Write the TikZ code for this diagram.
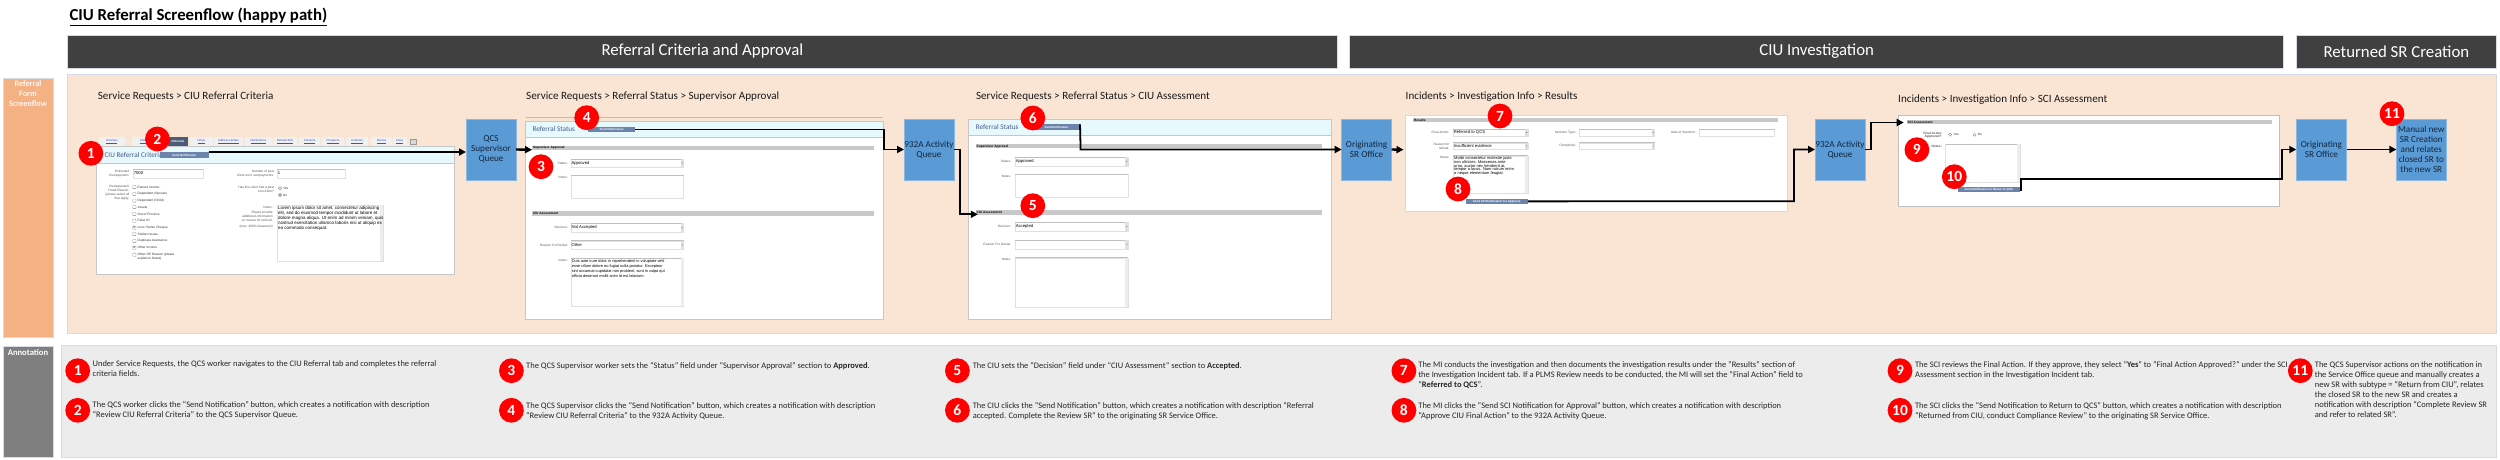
\documentclass[tikz,border=0pt]{standalone}
\usepackage{fontspec}
\setmainfont{Carlito}
\newfontfamily\frmfont{Liberation Sans}
\usetikzlibrary{arrows.meta}
\definecolor{peach}{HTML}{FAE5D5}
\definecolor{strip}{HTML}{F4B183}
\definecolor{annot}{HTML}{7F7F7F}
\definecolor{panel}{HTML}{ECECEC}
\definecolor{dark}{HTML}{404040}
\definecolor{edgeb}{HTML}{D6DCE5}
\definecolor{queue}{HTML}{5B9BD5}
\definecolor{qtext}{HTML}{12263F}
\definecolor{hdr}{HTML}{E8F9FD}
\definecolor{btn}{HTML}{6C83AB}
\definecolor{bar}{HTML}{C8C8C8}
\definecolor{lnk}{HTML}{3A4FD0}
\definecolor{ttl}{HTML}{3F5C8C}
\newcount\fcnt
\newcommand\fsz[1]{\fontsize{#1}{#1}\selectfont}
\newcommand\bx[7][]{%
  \pgfmathsetmacro\bxc{(#3+#5)/2}\pgfmathsetmacro\byc{(#4+#6)/2}%
  \pgfmathsetmacro\bw{abs(#5-#3)}\pgfmathsetmacro\bh{abs(#6-#4)}%
  \node[inner sep=0pt,outer sep=0pt,minimum width=\bw pt,minimum height=\bh pt,#1] (#2) at (\bxc,\byc) {#7};}
\newcommand\nid{\global\advance\fcnt by 1 }
% right-aligned tiny form label
\newcommand\rgtxt[3]{\nid\node[frm,anchor=east,text=black!65] (f\the\fcnt) at (#1,#2) {#3};}
% left-aligned tiny form text
\newcommand\lftxt[3]{\nid\node[frm,anchor=west,text=black!80] (f\the\fcnt) at (#1,#2) {#3};}
% input field
\newcommand\fld[5]{\draw[fieldl] (#1,#2) rectangle (#3,#4);\draw[black!25,line width=.9pt] (#1,#2) -- (#3,#2);
  \nid\node[frm,anchor=west,text=black,fsize=4.2] (f\the\fcnt) at (#1+.5,{(#2+#4)/2}) {#5};}
% drop-down marker
\newcommand\drp[3]{\fill[black!12] (#1-3,#2) rectangle (#1,#3);\fill[black!60] (#1-2.1,{(#2+#3)/2-.5}) -- (#1-.9,{(#2+#3)/2-.5}) -- (#1-1.5,{(#2+#3)/2+.6}) -- cycle;}
\newcommand\chk[2]{\draw[black!45,line width=.3pt,rounded corners=.5pt] (#1,#2-1.6) rectangle (#1+3.3,#2+1.6);}
\newcommand\rdo[2]{\draw[black!55,line width=.3pt] (#1,#2) circle (1.6);}
\tikzset{
  x=1pt,y=-1pt,
  frm/.style={inner sep=0pt,outer sep=0pt,font=\frmfont\fsz{3.2}},
  fsize/.style={font=\frmfont\fsz{#1}},
  fieldl/.style={draw=black!12,fill=white,line width=.4pt},
  redc/.style={circle,fill=red,inner sep=0pt,minimum size=24.8pt,text=white,font=\bfseries\fsz{15.5}},
  headbar/.style={fill=dark,draw=edgeb,line width=.5pt,text=white,font=\fsz{16.8}},
  qbox/.style={fill=queue,draw=queue!70!white,line width=.5pt,text=qtext,align=center,font=\fontsize{9.2}{10}\selectfont},
  secl/.style={anchor=west,inner sep=0pt,font=\fsz{11.1},text=black!90},
  annt/.style={anchor=north west,inner sep=0pt,align=left,text=black!85,font=\fontsize{8.45}{10}\selectfont},
  formb/.style={fill=white,draw=black!22,line width=.5pt},
  hdrb/.style={fill=hdr,draw=black!22,line width=.5pt},
  nbtn/.style={fill=btn,text=white,font=\frmfont\bfseries\fsz{2.9}},
  tabb/.style={fill=black!6,text=lnk,font=\frmfont\fsz{2.9}},
  sbar/.style={fill=bar},
  flow/.style={draw=black,line width=1.8pt,-{Triangle[length=7pt,width=7pt]}},
  stub/.style={draw=black,line width=2.4pt,-{Triangle[length=7pt,width=7pt]}},
}
\begin{document}
\begin{tikzpicture}
\useasboundingbox (0,0) rectangle (2500,459);
\fill[white] (0,0) rectangle (2500,459);
% title
\node[anchor=base west,inner sep=0pt,font=\bfseries\fsz{16.8}] (title) at (69.4,20.7) {\underline{CIU Referral Screenflow (happy path)}};
% headers
\bx[headbar]{h1}{67}{35}{1337.7}{68}{Referral Criteria and Approval}
\bx[headbar]{h2}{1349.6}{35}{2283.6}{68}{CIU Investigation}
\bx[headbar]{h3}{2296.3}{35}{2496.4}{68}{Returned SR Creation}
% bands
\bx[fill=peach,draw=edgeb,line width=.5pt]{band}{67}{74}{2496.4}{333}{}
\bx[fill=strip,draw=edgeb,line width=.5pt]{sideA}{3}{78}{53}{337}{}
\bx[fill=annot,draw=edgeb,line width=.5pt]{sideB}{3}{346}{53}{457}{}
\bx[fill=panel,draw=edgeb,line width=.5pt]{anpanel}{61}{345}{2496.4}{457}{}
\node[anchor=north,inner sep=0pt,align=center,text=white!90!strip,font=\bfseries\fontsize{8.2}{10}\selectfont] (sideAt) at (28,80.5) {Referral\\Form\\Screenflow};
\node[inner sep=0pt,text=white,font=\bfseries\fsz{8.6}] (sideBt) at (28,352.3) {Annotation};
% section titles
\node[secl] (s1) at (97.7,97) {Service Requests > CIU Referral Criteria};
\node[secl] (s2) at (526,97) {Service Requests > Referral Status > Supervisor Approval};
\node[secl] (s3) at (975.8,97) {Service Requests > Referral Status > CIU Assessment};
\node[secl] (s4) at (1405.5,97) {Incidents > Investigation Info > Results};
\node[secl] (s5) at (1898,99.3) {Incidents > Investigation Info > SCI Assessment};
% queues
\bx[qbox]{q1}{466}{119}{516}{180}{QCS\\Supervisor\\Queue}
\bx[qbox]{q2}{904}{119}{953.8}{180}{932A Activity\\Queue}
\bx[qbox]{q3}{1341.7}{119}{1391.5}{180}{Originating\\SR Office}
\bx[qbox]{q4}{1815}{119}{1865}{180}{932A Activity\\Queue}
\bx[qbox]{q5}{2296.3}{119}{2346.5}{180}{Originating\\SR Office}
\bx[qbox]{q6}{2396.4}{119}{2446.2}{180}{Manual new\\SR Creation\\and relates\\closed SR to\\the new SR}

% ---------- form 1
\bx[formb]{f1body}{96.5}{146}{454.5}{274}{}
\bx[hdrb]{f1head}{96.5}{146}{454.5}{163}{}
\foreach \ta/\tb/\tl in {98.5/125/Activities,131.5/165/Attachments,190/212.7/Notes,214/243/Address Update,245/272/Notifications,273/297/Related SRs,299/320/Contacts,322/344/Prospects,346/368/Incidents,371/392/Review,392.6/406.6/Close}{
  \nid\bx[tabb]{f\the\fcnt}{\ta}{137}{\tb}{146}{\underline{\tl}}
}
\bx[fill=btn!70!black,text=white,font=\frmfont\bfseries\fsz{2.9}]{tabref}{168}{137}{188}{146}{Referrals}
\bx[fill=black!15,draw=black!40,line width=.3pt]{tabmore}{410}{139}{416.5}{144}{}
\node[inner sep=0pt,anchor=west,text=ttl,font=\fsz{7.2}] (f1t) at (104.4,155) {CIU Referral Criteria};
\bx[nbtn]{b1}{160}{152}{208.5}{158}{Send Notification}
\rgtxt{129.3}{171.5}{Estimated}\rgtxt{129.3}{175.5}{Overpayment:}
\fld{133.3}{169.3}{202.7}{177.7}{7000}
\rgtxt{274}{171.5}{Number of past}\rgtxt{274}{175.5}{client error overpayments:}
\fld{277.3}{169.3}{345}{177.7}{1}
\rgtxt{129.3}{187}{Overpayment/}\rgtxt{129.3}{190.7}{Fraud Reason:}\rgtxt{129.3}{194.7}{(please select all}\rgtxt{129.3}{198.5}{that apply:}
\foreach \yy/\tl in {187/{Earned Income},194/{Dependant (Spouse)},200.5/{Dependant (Child)},207/{Assets},214/{Out of Province},220.7/{False ID},227.7/{Lost / Stolen Cheque},234/{Shelter Issues},241/{Duplicate Assistance},247.7/{Other Income},254.7/{Other OP Reason (please}}{
  \chk{132.7}{\yy}\lftxt{137.7}{\yy}{\tl}
}
\lftxt{137.7}{259}{explain in Notes)}
\node[inner sep=0pt,font=\fsz{3.5}] (ck1) at (134.35,227.7) {x};
\node[inner sep=0pt,font=\fsz{3.5}] (ck2) at (134.35,247.7) {x};
\rgtxt{274}{188}{Has this client had a past}\rgtxt{274}{191.5}{conviction?}
\rdo{280}{188.3}\lftxt{283}{188.3}{Yes}
\rdo{280}{195}\fill[black!55] (280,195) circle (.9);\lftxt{283}{195}{No}
\rgtxt{272.7}{207.7}{Notes:}\rgtxt{272.7}{212.3}{\itshape Please provide}\rgtxt{272.7}{216.3}{\itshape additional information}\rgtxt{272.7}{219.9}{\itshape on reason for referral.}\rgtxt{272.7}{227}{(max. 4000 characters)}
\draw[fieldl] (277.3,205) rectangle (382.7,260.7);
\fill[black!7] (379.7,205) rectangle (382.7,260.7);
\node[anchor=north west,inner sep=0pt,align=left,font=\frmfont\fontsize{4.5}{5}\selectfont] (f1notes) at (278,205.9) {Lorem ipsum dolor sit amet, consectetur adipiscing\\elit, sed do eiusmod tempor incididunt ut labore et\\dolore magna aliqua. Ut enim ad minim veniam, quis\\nostrud exercitation ullamco laboris nisi ut aliquip ex\\ea commodo consequat.};

% ---------- form 2
\draw[black!20!peach,line width=.6pt] (526,117.5) -- (883,117.5);
\bx[formb]{f2body}{525.7}{121.7}{883.3}{319}{}
\bx[hdrb]{f2head}{525.7}{121.7}{883.3}{137.3}{}
\node[inner sep=0pt,anchor=west,text=ttl,font=\fsz{7.2}] (f2t) at (532.3,129.3) {Referral Status};
\bx[nbtn]{b2}{588.3}{126.7}{635}{132.3}{Send Notification}
\bx[sbar]{f2a}{532.3}{145.7}{874}{150}{}
\node[frm,anchor=west,text=black] (f2at) at (533,147.9) {\bfseries Supervisor Approval};
\rgtxt{567.7}{163}{Status:}\fld{571}{159}{683.6}{167.3}{Approved}\drp{683.6}{159}{167.3}
\rgtxt{567.7}{177}{Notes:}\fld{571}{175}{683.6}{198.3}{}
\bx[sbar]{f2b}{532.3}{211}{874}{215.7}{}
\node[frm,anchor=west,text=black] (f2bt) at (533,213.3) {\bfseries CIU Assessment};
\rgtxt{567.7}{227.3}{Decision:}\fld{571}{223.3}{683.6}{231.7}{Not Accepted}\drp{683.6}{223.3}{231.7}
\rgtxt{567.7}{245}{Reason For Denial:}\fld{571}{240.7}{683.6}{249.3}{Other}\drp{683.6}{240.7}{249.3}
\rgtxt{567.7}{260}{Notes:}
\draw[fieldl] (571,258.3) rectangle (683.6,306);\draw[black!25,line width=.9pt] (571,258.3) -- (683.6,258.3);
\fill[black!7] (680.6,258.3) rectangle (683.6,306);
\node[anchor=north west,inner sep=0pt,align=left,font=\frmfont\fontsize{3.9}{5}\selectfont] (f2notes) at (571.7,259) {Duis aute irure dolor in reprehenderit in voluptate velit\\esse cillum dolore eu fugiat nulla pariatur. Excepteur\\sint occaecat cupidatat non proident, sunt in culpa qui\\officia deserunt mollit anim id est laborum.};

% ---------- form 3
\bx[formb]{f3body}{968.7}{119.7}{1331}{319}{}
\bx[hdrb]{f3head}{968.7}{119.7}{1331}{135}{}
\node[inner sep=0pt,anchor=west,text=ttl,font=\fsz{7.2}] (f3t) at (975.7,127.5) {Referral Status};
\bx[nbtn]{b3}{1033}{124.3}{1080}{130}{Send Notification}
\bx[sbar]{f3a}{976}{144}{1321.7}{148.3}{}
\node[frm,anchor=west,text=black] (f3at) at (976.7,146.2) {\bfseries Supervisor Approval};
\rgtxt{1011}{161.7}{Status:}\fld{1015.3}{157.3}{1128.4}{165.7}{Approved}\drp{1128.4}{157.3}{165.7}
\rgtxt{1011}{176}{Notes:}\fld{1015.3}{174}{1128.4}{196.7}{}
\bx[sbar]{f3b}{976}{210}{1321.7}{215}{}
\node[frm,anchor=west,text=black] (f3bt) at (976.7,212.5) {\bfseries CIU Assessment};
\rgtxt{1011}{226.7}{Decision:}\fld{1015.3}{222.3}{1128.4}{230.7}{Accepted}\drp{1128.4}{222.3}{230.7}
\rgtxt{1011}{244.5}{Reason For Denial:}\fld{1015.3}{240}{1128.4}{248.7}{}\drp{1128.4}{240}{248.7}
\rgtxt{1011}{259.7}{Notes:}
\draw[fieldl] (1015.3,257.7) rectangle (1128.4,306.7);\draw[black!25,line width=.9pt] (1015.3,257.7) -- (1128.4,257.7);
\fill[black!7] (1125.4,257.7) rectangle (1128.4,306.7);

% ---------- form 4
\bx[fill=white,draw=black!15,line width=.4pt]{f4body}{1405.5}{115.3}{1787.3}{211}{}
\bx[sbar]{f4a}{1413.4}{117.7}{1778}{122}{}
\node[frm,anchor=west,text=black] (f4at) at (1414,119.9) {\bfseries Results};
\rgtxt{1449.3}{132.7}{Final Action:}\fld{1453.3}{129.3}{1528.2}{136}{Referred to QCS}\drp{1528.2}{129.3}{136}
\rgtxt{1576}{132.7}{Sanction Type:}\fld{1579.2}{129.3}{1654.6}{136}{}\drp{1654.6}{129.3}{136}
\rgtxt{1695.6}{132.7}{Date of Sanction:}\fld{1699.2}{129.3}{1774.5}{136}{}
\rgtxt{1449.3}{144.7}{Reason for}\rgtxt{1449.3}{147.9}{refusal:}\fld{1453.3}{142.7}{1528.2}{149.3}{Insufficient evidence}\drp{1528.2}{142.7}{149.3}
\rgtxt{1576}{146}{Complexity:}\fld{1579.2}{142.7}{1654.6}{149.3}{}\drp{1654.6}{142.7}{149.3}
\rgtxt{1449.3}{157.3}{Notes:}
\draw[fieldl] (1453.3,155.7) rectangle (1528.2,192.7);\draw[black!25,line width=.9pt] (1453.3,155.7) -- (1528.2,155.7);
\fill[black!7] (1525.2,155.7) rectangle (1528.2,192.7);
\node[anchor=north west,inner sep=0pt,align=left,font=\frmfont\fontsize{4}{3.8}\selectfont] (f4notes) at (1454,156.4) {Morbi consectetur molestie justo\\non ultricies. Maecenas ante\\urna, auctor nec hendrerit at,\\tempor a lacus. Nam rutrum enim\\a neque elementum feugiat.};
\bx[nbtn]{b4}{1465.6}{199}{1527.8}{203.7}{Send SCI Notification for Approval}

% ---------- form 5
\bx[fill=white,draw=black!25,line width=.4pt]{f5body}{1897.7}{115.3}{2279.6}{206}{}
\bx[sbar]{f5a}{1906.9}{120}{2271.6}{124}{}
\node[frm,anchor=west,text=black] (f5at) at (1907.5,122) {\bfseries SCI Assessment};
\rgtxt{1941.6}{133}{\bfseries Final Action}\rgtxt{1941.6}{136.3}{\bfseries Approved?}
\rdo{1950}{134.7}\lftxt{1953.5}{134.7}{Yes}
\rdo{1974.6}{134.7}\lftxt{1977.8}{134.7}{No}
\rgtxt{1941.6}{146}{\bfseries Notes:}
\draw[fieldl] (1945.6,144.3) rectangle (2020,181.7);\draw[black!25,line width=.9pt] (1945.6,144.3) -- (2020,144.3);
\fill[black!7] (2017,144.3) rectangle (2020,181.7);
\bx[nbtn]{b5}{1957.5}{187.3}{2020}{192.3}{Send Notification to Return to QCS}

% ---------- connectors
\coordinate (c2) at (532,149.7);
\coordinate (c4) at (977.8,214.3);
\coordinate (c6) at (1403.5,149.7);
\coordinate (c8) at (1903.7,122.5);
\draw[flow] (b1.north east) -- (b1.north east -| q1.west);
\draw[stub] (q1.east) -- (c2);
\draw[flow] (b2.east) -- (884,129.5) -- (884,149.5) -- (q2.west);
\draw[flow] (q2.east) -- (959.8,149.5) -- (959.8,214.3) -- (c4);
\draw[flow] (b3.north east) -- (1080.6,149.5) -- (q3.west);
\draw[stub] (q3.east) -- (c6);
\draw[flow] (b4.east) -- (1794,201.3) -- (1794,149.5) -- (q4.west);
\draw[flow] (q4.east) -- (1870.6,149.5) -- (1870.6,122.5) -- (c8);
\draw[flow] (b5.east) -- (2021.3,189.8) -- (2021.3,179) -- (2281.6,179) -- (2281.6,149.5) -- (q5.west);
\draw[flow] (q5.east) -- (q6.west);

% ---------- numbered circles on the flow
\foreach \n/\xx/\yy in {1/90.9/153.3,2/157.4/139,3/541/166.7,4/586.7/117.7,5/1032.8/205.7,6/1032.8/118,7/1500/116,8/1458/189,9/1916.9/149.7,10/1954.3/176.7,11/2392/113.7}{
  \node[redc] (n\n) at (\xx,\yy) {\n};
}
% ---------- annotation circles
\foreach \n/\xx/\yy in {1/77.7/370.7,2/77.7/410.3,3/511.4/370.7,4/511.4/410.3,5/957.4/370.7,6/957.4/410.3,7/1403.9/370.7,8/1403.9/410.3,9/1900/370.7,10/1900/410.3,11/2300.3/370.7}{
  \node[redc] (a\n) at (\xx,\yy) {\n};
}
% ---------- annotation text
\node[annt] (t1) at (92.5,360.5) {Under Service Requests, the QCS worker navigates to the CIU Referral tab and completes the referral\\criteria fields.};
\node[annt] (t2) at (92.5,400.7) {The QCS worker clicks the “Send Notification” button, which creates a notification with description\\“Review CIU Referral Criteria” to the QCS Supervisor Queue.};
\node[annt] (t3) at (526,361.7) {The QCS Supervisor worker sets the “Status” field under “Supervisor Approval” section to \textbf{Approved}.};
\node[annt] (t4) at (526,401.7) {The QCS Supervisor clicks the “Send Notification” button, which creates a notification with description\\“Review CIU Referral Criteria” to the 932A Activity Queue.};
\node[annt] (t5) at (972.6,361.7) {The CIU sets the “Decision” field under “CIU Assessment” section to \textbf{Accepted}.};
\node[annt] (t6) at (972.6,401.7) {The CIU clicks the “Send Notification” button, which creates a notification with description “Referral\\accepted. Complete the Review SR” to the originating SR Service Office.};
\node[annt] (t7) at (1418.2,361.7) {The MI conducts the investigation and then documents the investigation results under the "Results" section of\\the Investigation Incident tab. If a PLMS Review needs to be conducted, the MI will set the "Final Action" field to\\"\textbf{Referred to QCS}".};
\node[annt] (t8) at (1418.2,401.7) {The MI clicks the “Send SCI Notification for Approval” button, which creates a notification with description\\“Approve CIU Final Action” to the 932A Activity Queue.};
\node[annt] (t9) at (1914.9,361.7) {The SCI reviews the Final Action. If they approve, they select "\textbf{Yes}" to "Final Action Approved?" under the SCI\\Assessment section in the Investigation Incident tab.};
\node[annt] (t10) at (1914.9,401.7) {The SCI clicks the “Send Notification to Return to QCS” button, which creates a notification with description\\“Returned from CIU, conduct Compliance Review” to the originating SR Service Office.};
\node[annt] (t11) at (2314.7,361.7) {The QCS Supervisor actions on the notification in\\the Service Office queue and manually creates a\\new SR with subtype = “Return from CIU”, relates\\the closed SR to the new SR and creates a\\notification with description “Complete Review SR\\and refer to related SR”.};
\end{tikzpicture}
\end{document}
